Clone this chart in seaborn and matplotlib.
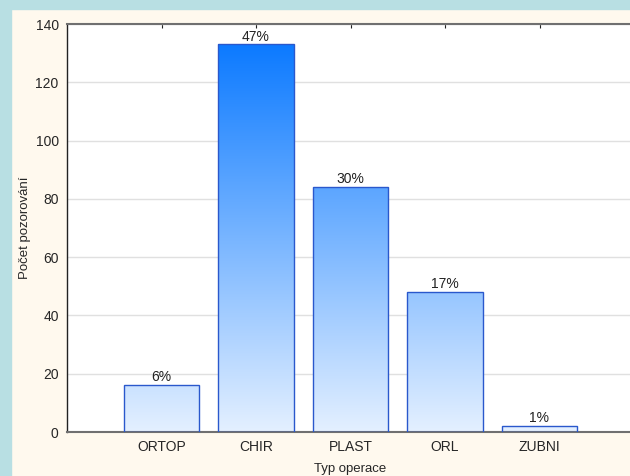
import numpy as np
import pandas as pd
import seaborn as sns
import matplotlib.pyplot as plt
from matplotlib.colors import LinearSegmentedColormap
from matplotlib.patches import Rectangle

# data
kategorie = ['ORTOP', 'CHIR', 'PLAST', 'ORL', 'ZUBNI']
pocty = [16, 133, 84, 48, 2]
procenta = ['6%', '47%', '30%', '17%', '1%']

df = pd.DataFrame({'Typ operace': kategorie, 'Počet': pocty})

sns.set_style('white')
plt.rcParams['font.family'] = ['Liberation Sans', 'DejaVu Sans']

fig = plt.figure(figsize=(6.3, 4.76), dpi=100, facecolor='#FFF9EE')
# light blue frame on the left and top
fig.patches.append(Rectangle((0, 0), 11 / 630, 1, transform=fig.transFigure,
                             color='#B8DFE3', zorder=-5))
fig.patches.append(Rectangle((0, 1 - 9 / 476), 1, 9 / 476, transform=fig.transFigure,
                             color='#B8DFE3', zorder=-5))

ax = fig.add_axes([67 / 630, 1 - 432 / 476, 567 / 630, 408 / 476])
ax.set_facecolor('white')

sns.barplot(data=df, x='Typ operace', y='Počet', ax=ax, width=0.8,
            facecolor='none', edgecolor='#2A58CC', linewidth=1.0, zorder=3)

# gradient fill, light at the bottom, strong blue at the top
cmap = LinearSegmentedColormap.from_list('modra', ['#E4F0FF', '#0C7AFF'])
grad = np.linspace(0, 1, 256).reshape(-1, 1)
for patch in ax.patches:
    x0 = patch.get_x()
    w = patch.get_width()
    im = ax.imshow(grad, cmap=cmap, origin='lower', aspect='auto',
                   extent=(x0, x0 + w, 0, max(pocty)), zorder=2)
    im.set_clip_path(patch)
ax.set_xlim(-1, 5)
ax.set_ylim(0, 140)
ax.set_yticks(range(0, 141, 20))

for i, (v, p) in enumerate(zip(pocty, procenta)):
    ax.text(i, v + 0.3, p, ha='center', va='bottom', fontsize=10, color='#222222')

ax.grid(axis='y', color='#E0E0E0', linewidth=1.0, zorder=0)
ax.set_axisbelow(True)

ax.spines['left'].set_color('#222222')
ax.spines['left'].set_linewidth(1.0)
ax.spines['bottom'].set_color('#707070')
ax.spines['bottom'].set_linewidth(1.5)
ax.spines['top'].set_color('#707070')
ax.spines['top'].set_linewidth(1.5)
ax.spines['right'].set_visible(False)

ax.tick_params(axis='y', direction='out', length=4, width=0.8, color='#222222',
               labelsize=10, pad=2)
ax.tick_params(axis='x', direction='in', length=3, width=0.8, color='#222222',
               labelsize=10, top=True, bottom=True, pad=6)

ax.set_xlabel('Typ operace', fontsize=9.5, labelpad=6)
ax.set_ylabel('Počet pozorování', fontsize=9.5, labelpad=3)

fig.savefig('out.png', dpi=100, facecolor=fig.get_facecolor())
